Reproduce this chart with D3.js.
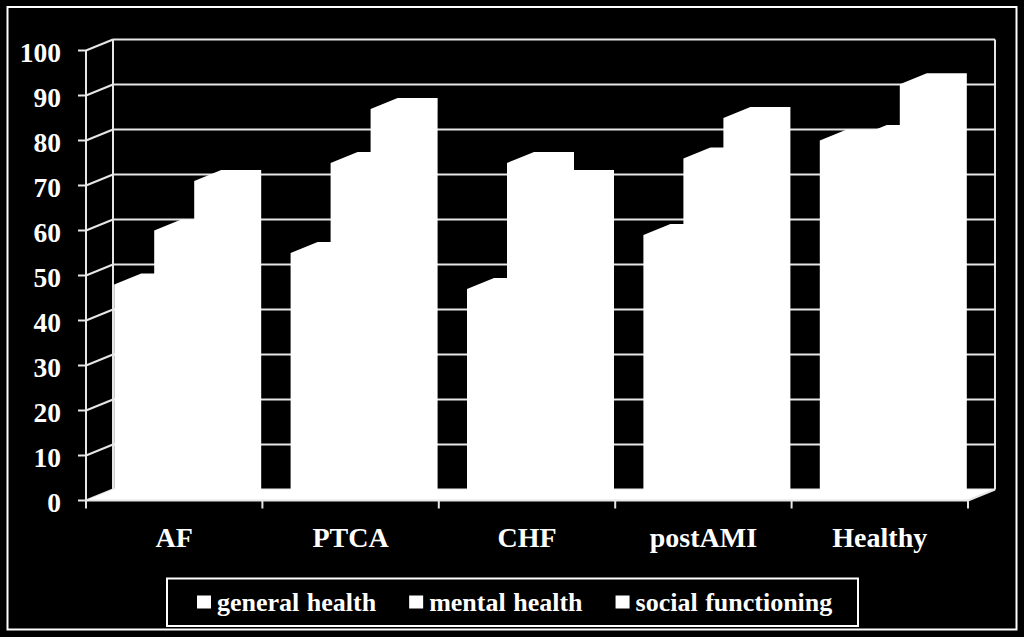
<!DOCTYPE html>
<html>
<head>
<meta charset="utf-8">
<script src="https://cdn.jsdelivr.net/npm/d3@7"></script>
<style>
  html, body { margin: 0; padding: 0; background: #000; }
  svg { display: block; }
  text { font-family: "Liberation Serif", "Times New Roman", serif; font-weight: bold; fill: #fff; }
</style>
</head>
<body>
<svg id="chart" width="1024" height="637"></svg>
<script>
// ---- data ----
const categories = ["AF", "PTCA", "CHF", "postAMI", "Healthy"];
const seriesNames = ["general health", "mental health", "social functioning"];
const generalHealth = [48, 55, 47, 59, 80];
const mentalHealth = [60, 75, 75, 76, 81];
const socialFunctioning = [71, 87, 71, 85, 92.5];
const yTicks = [0, 10, 20, 30, 40, 50, 60, 70, 80, 90, 100];

const seriesValues = [generalHealth, mentalHealth, socialFunctioning];

(function () {
// ---- layout ----
const svg = d3.select("#chart");
const W = 1024, H = 637;
const pLeft = 86, pRight = 968, pBottom = 500.5, pTop = 50.5;
const dx = 27, dy = -11;   // 3D depth offset

svg.append("rect").attr("width", W).attr("height", H).attr("fill", "#000");
// outer border
svg.append("rect").attr("x", 7.5).attr("y", 7).attr("width", 1009).attr("height", 622.5)
  .attr("fill", "none").attr("stroke", "#fff").attr("stroke-width", 2);

const x0 = d3.scaleBand().domain(categories).range([pLeft, pRight]).paddingInner(0).paddingOuter(0);
const groupW = 120;
const x1 = d3.scaleBand().domain(seriesNames).range([0, groupW]);
const y = d3.scaleLinear().domain([0, 100]).range([pBottom, pTop]);

const gridColor = "#e6e6e6";

// back wall gridlines
const g = svg.append("g");
g.selectAll("line.grid").data(yTicks).enter().append("line")
  .attr("x1", pLeft + dx).attr("x2", pRight + dx)
  .attr("y1", d => y(d) + dy).attr("y2", d => y(d) + dy)
  .attr("stroke", gridColor).attr("stroke-width", 2);
// side wall diagonals
g.selectAll("line.side").data(yTicks).enter().append("line")
  .attr("x1", pLeft).attr("x2", pLeft + dx)
  .attr("y1", d => y(d)).attr("y2", d => y(d) + dy)
  .attr("stroke", gridColor).attr("stroke-width", 2);
// back wall verticals
g.append("line").attr("x1", pLeft + dx).attr("x2", pLeft + dx)
  .attr("y1", y(100) + dy).attr("y2", y(0) + dy).attr("stroke", gridColor).attr("stroke-width", 2);
g.append("line").attr("x1", pRight + dx).attr("x2", pRight + dx)
  .attr("y1", y(100) + dy).attr("y2", y(0) + dy).attr("stroke", gridColor).attr("stroke-width", 2);

// floor
g.append("polygon")
  .attr("points", [[pLeft, y(0)], [pRight, y(0)], [pRight + dx, y(0) + dy], [pLeft + dx, y(0) + dy]].map(p => p.join(",")).join(" "))
  .attr("fill", "#fff");

// bars
const barData = [];
categories.forEach((c, i) => {
  seriesNames.forEach((s, j) => {
    barData.push({ cat: c, ser: s, value: seriesValues[j][i] });
  });
});
const offset = (x0.bandwidth() - groupW) / 2;
g.selectAll("polygon.bar").data(barData).enter().append("polygon")
  .attr("class", "bar")
  .attr("points", d => {
    const xa = x0(d.cat) + offset + x1(d.ser);
    const xb = xa + x1.bandwidth();
    const yt = y(d.value), yb = y(0);
    return [[xa, yb], [xa, yt], [xa + dx, yt + dy], [xb + dx, yt + dy], [xb + dx, yb + dy], [xb, yb]]
      .map(p => p.join(",")).join(" ");
  })
  .attr("fill", "#fff");

// y axis
const yAxis = svg.append("g");
yAxis.append("line").attr("x1", pLeft).attr("x2", pLeft).attr("y1", y(100)).attr("y2", y(0))
  .attr("stroke", gridColor).attr("stroke-width", 2);
yAxis.selectAll("line.tick").data(yTicks).enter().append("line")
  .attr("x1", pLeft - 8).attr("x2", pLeft).attr("y1", d => y(d)).attr("y2", d => y(d))
  .attr("stroke", gridColor).attr("stroke-width", 2);
yAxis.selectAll("text").data(yTicks).enter().append("text")
  .attr("x", 61).attr("y", d => y(d) + 11.5)
  .attr("text-anchor", "end").attr("font-size", 27.5)
  .text(d => d);

// x axis
const xAxis = svg.append("g");
xAxis.append("line").attr("x1", pLeft).attr("x2", pRight).attr("y1", y(0)).attr("y2", y(0))
  .attr("stroke", gridColor).attr("stroke-width", 2);
xAxis.append("line").attr("x1", pRight).attr("x2", pRight + dx).attr("y1", y(0)).attr("y2", y(0) + dy)
  .attr("stroke", gridColor).attr("stroke-width", 2);
const boundaries = categories.map(c => x0(c)).concat([pRight]);
xAxis.selectAll("line.tick").data(boundaries).enter().append("line")
  .attr("x1", d => d).attr("x2", d => d).attr("y1", y(0)).attr("y2", y(0) + 8)
  .attr("stroke", gridColor).attr("stroke-width", 2);
xAxis.selectAll("text").data(categories).enter().append("text")
  .attr("x", d => x0(d) + x0.bandwidth() / 2).attr("y", 547)
  .attr("text-anchor", "middle").attr("font-size", 28)
  .text(d => d);

// legend
const leg = svg.append("g");
leg.append("rect").attr("x", 167).attr("y", 578.5).attr("width", 691).attr("height", 47.5)
  .attr("fill", "#000").attr("stroke", "#fff").attr("stroke-width", 2);
let lx = 197;
seriesNames.forEach((s, j) => {
  leg.append("rect").attr("x", lx).attr("y", 595.5).attr("width", 14).attr("height", 13).attr("fill", "#fff");
  const t = leg.append("text").attr("x", lx + 20).attr("y", 611).attr("font-size", 26)
    .attr("word-spacing", 1).text(s);
  const w = t.node().getComputedTextLength();
  lx = lx + 20 + w + 33;
});
})();
</script>
</body>
</html>
